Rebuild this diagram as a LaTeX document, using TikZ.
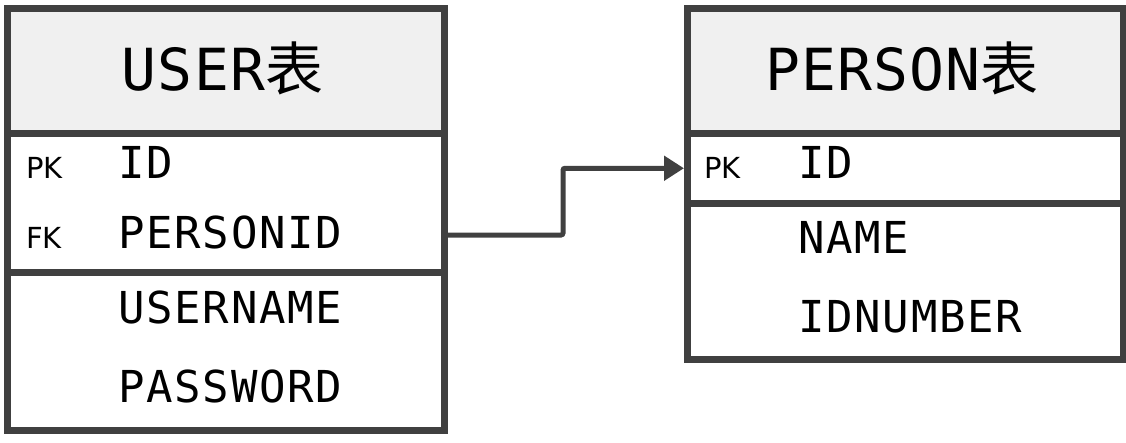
\documentclass[tikz,border=0pt]{standalone}
\usepackage{fontspec}
\usetikzlibrary{arrows.meta}
\setmainfont{DejaVu Sans Mono}
\newfontfamily\fieldf[LetterSpace=4]{DejaVu Sans Mono}
\newfontfamily\titlef[LetterSpace=2]{DejaVu Sans Mono}
\newfontfamily\cjkf{Noto Sans CJK SC}
\newfontfamily\keyf{DejaVu Sans}
\definecolor{bordc}{HTML}{404040}
\definecolor{headc}{HTML}{F0F0F0}
\begin{document}
\begin{tikzpicture}[x=1pt,y=-1pt,
  sect/.style={draw=bordc,line width=6.5pt,anchor=north west,inner sep=0pt},
  headbox/.style={sect,fill=headc},
  rowbox/.style={sect,fill=white},
  titletext/.style={font=\titlef\fontsize{58}{60}\selectfont,anchor=base,inner sep=0pt},
  fieldtext/.style={font=\fieldf\fontsize{44}{48}\selectfont,anchor=base west,inner sep=0pt},
  keytext/.style={font=\keyf\fontsize{29}{32}\selectfont,anchor=base west,inner sep=0pt},
  link/.style={draw=bordc,line width=5pt,-{Triangle[length=20pt,width=24pt]}}]
\useasboundingbox (0,0) rectangle (1126,442);
% USER table
\node[headbox,minimum width=437pt,minimum height=125pt] (uhead) at (4,5) {};
\node[rowbox,minimum width=437pt,minimum height=139pt] (ukeys) at (4,130) {};
\node[rowbox,minimum width=437pt,minimum height=158pt] (ufields) at (4,269) {};
\node[titletext] (utitle) at (222.5,90) {USER\cjkf 表};
\node[keytext] (upk) at (26,178) {PK};
\node[fieldtext] (uid) at (118,178) {ID};
\node[keytext] (ufk) at (26,248) {FK};
\node[fieldtext] (upid) at (118,248) {PERSONID};
\node[fieldtext] (uname) at (118,323) {USERNAME};
\node[fieldtext] (upass) at (118,402) {PASSWORD};
% PERSON table
\node[headbox,minimum width=436pt,minimum height=125pt] (phead) at (684,5) {};
\node[rowbox,minimum width=436pt,minimum height=70pt] (pkeys) at (684,130) {};
\node[rowbox,minimum width=436pt,minimum height=156pt] (pfields) at (684,200) {};
\node[titletext] (ptitle) at (902,90) {PERSON\cjkf 表};
\node[keytext] (ppk) at (704,178) {PK};
\node[fieldtext] (pid) at (798,178) {ID};
\node[fieldtext] (pname) at (798,253) {NAME};
\node[fieldtext] (pnum) at (798,332) {IDNUMBER};
% connector
\coordinate (lfk) at (441,235);
\draw[link,rounded corners=2pt] (lfk) -- (563,235) |- (pkeys.west);
\end{tikzpicture}
\end{document}
